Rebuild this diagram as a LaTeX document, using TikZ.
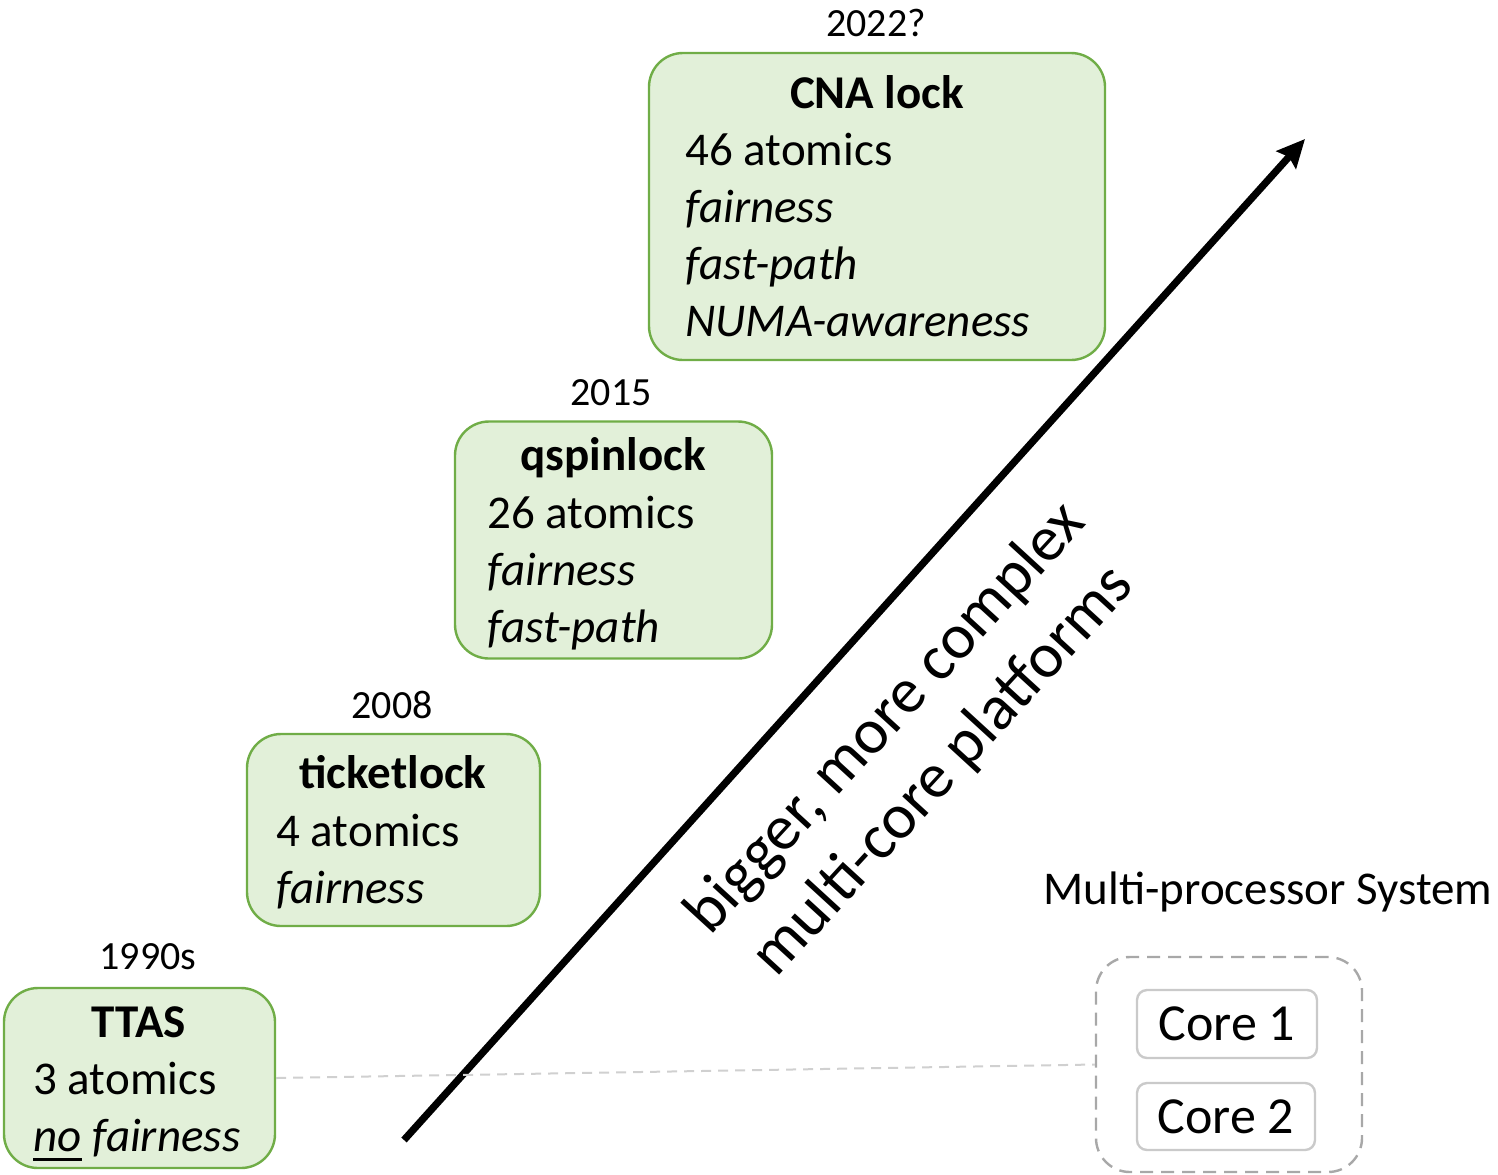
\documentclass[tikz,border=0pt]{standalone}
\usepackage{fontspec}
\setmainfont{Carlito}
\usetikzlibrary{arrows.meta}
\definecolor{lockfill}{HTML}{E2F0D9}
\definecolor{lockedge}{HTML}{70AD47}
\definecolor{linkgray}{HTML}{D0D0D0}
\definecolor{sysgray}{HTML}{A8A8A8}
\definecolor{coregray}{HTML}{CACACA}
% thick underline used for the negated property
\newcommand\thickunder[1]{\setbox0\hbox{#1}\rlap{\rule[-5pt]{\wd0}{1.5pt}}#1}
\begin{document}
\begin{tikzpicture}[x=0.5pt,y=-0.5pt,
  lockbox/.style={draw=lockedge, fill=lockfill, line width=1.2pt, rounded corners=17pt, inner sep=0pt},
  yearlabel/.style={anchor=base, inner sep=0pt, font=\fontsize{20}{24}\selectfont},
  locktitle/.style={anchor=base, inner sep=0pt, font=\fontsize{23.5}{28}\selectfont\bfseries},
  lockitem/.style={anchor=base west, inner sep=0pt, font=\fontsize{23.5}{28}\selectfont},
  sysbox/.style={draw=sysgray, line width=1.2pt, dash pattern=on 6.5pt off 4pt, rounded corners=17pt, inner sep=0pt},
  corebox/.style={draw=coregray, line width=1.2pt, rounded corners=5pt, inner sep=0pt, font=\fontsize{26}{30}\selectfont},
  linkstyle/.style={draw=linkgray, line width=1pt, dash pattern=on 5pt off 3.5pt}
]
\useasboundingbox (0,0) rectangle (1498,1174);

% ---- lock boxes ----
\node[lockbox, minimum width=228pt, minimum height=153.5pt] (cna) at (877,206.5) {};
\node[yearlabel] (cnayear) at (876,36) {2022?};
\node[locktitle] (cnatitle) at (877,108) {CNA lock};
\node[lockitem] (cna1) at (685,165) {46 atomics};
\node[lockitem] (cna2) at (685,222) {\itshape fairness};
\node[lockitem] (cna3) at (685,279) {\itshape fast-path};
\node[lockitem] (cna4) at (685,336) {\itshape NUMA-awareness};

\node[lockbox, minimum width=158.5pt, minimum height=118.5pt] (qspin) at (613.5,540) {};
\node[yearlabel] (qspinyear) at (611,405) {2015};
\node[locktitle] (qspintitle) at (613,470) {qspinlock};
\node[lockitem] (qspin1) at (487,528) {26 atomics};
\node[lockitem] (qspin2) at (487,585) {\itshape fairness};
\node[lockitem] (qspin3) at (487,642) {\itshape fast-path};

\node[lockbox, minimum width=146.5pt, minimum height=96pt] (ticket) at (393.5,830) {};
\node[yearlabel] (ticketyear) at (392,718) {2008};
\node[locktitle] (tickettitle) at (393,788) {ticketlock};
\node[lockitem] (ticket1) at (276,846) {4 atomics};
\node[lockitem] (ticket2) at (276,903) {\itshape fairness};

\node[lockbox, minimum width=135.5pt, minimum height=90pt] (ttas) at (139.5,1078) {};
\node[yearlabel] (ttasyear) at (148,969) {1990s};
\node[locktitle] (ttastitle) at (139,1037) {TTAS};
\node[lockitem] (ttas1) at (33,1094) {3 atomics};
\node[lockitem] (ttas2) at (33,1151) {\itshape\thickunder{no} fairness};

% ---- trend arrow ----
\coordinate (arrowtail) at (404,1140);
\coordinate (arrowtip) at (1305,139);
\draw[line width=3.6pt, -{Stealth[length=14pt,width=13pt,inset=2pt]}] (arrowtail) -- (arrowtip);
\node[rotate=47.5, align=center, inner sep=0pt, font=\fontsize{32}{39}\selectfont] (trend) at (915,745)
  {bigger, more complex\\multi-core platforms};

% ---- multi-processor system ----
\node[anchor=base, inner sep=0pt, font=\fontsize{23.5}{28}\selectfont] (systitle) at (1268,904) {Multi-processor System};
\node[sysbox, minimum width=133pt, minimum height=107.5pt] (multisys) at (1229,1064.5) {};
\node[corebox, minimum width=90pt, minimum height=34pt] (core1) at (1227,1024) {Core 1};
\node[corebox, minimum width=89pt, minimum height=33.5pt] (core2) at (1226,1116.5) {Core 2};

% ---- link from the first lock to the system ----
\draw[linkstyle] (ttas.east) -- (multisys.west);
\end{tikzpicture}
\end{document}
